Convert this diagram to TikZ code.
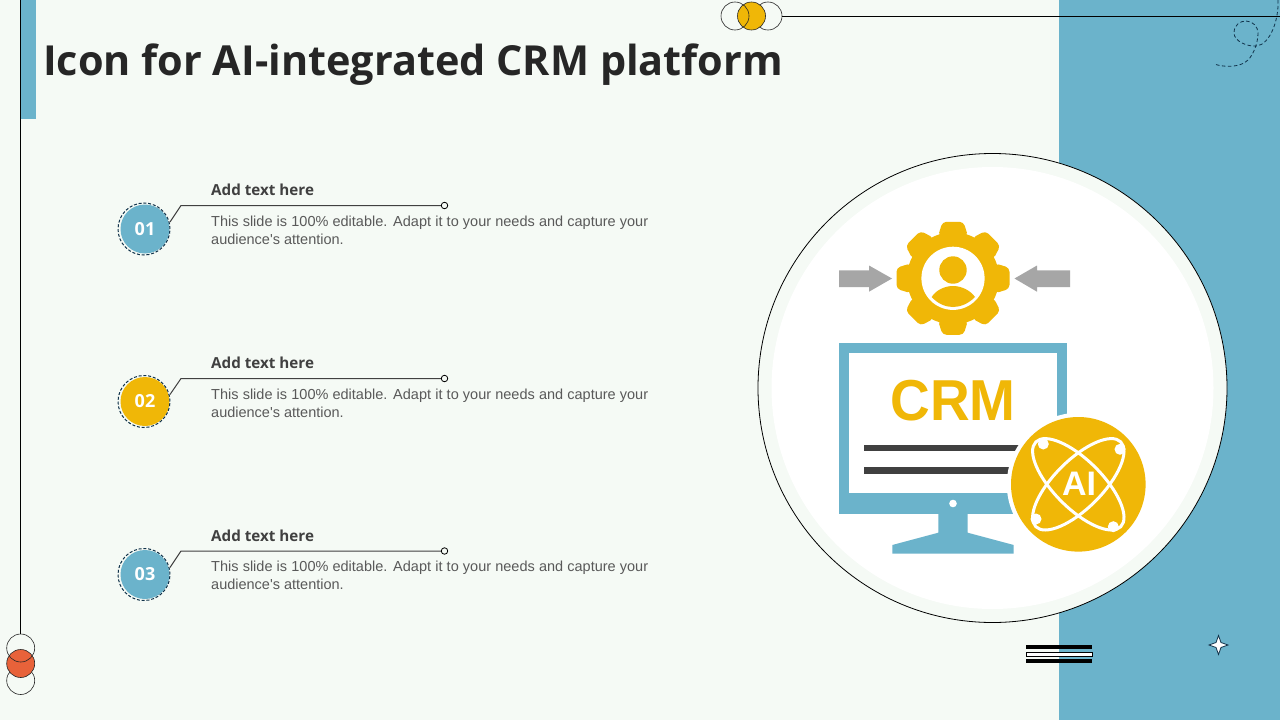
\documentclass[tikz,border=0pt]{standalone}
\usepackage{fontspec}
\setmainfont{Liberation Sans}
\newfontfamily\headfont{Open Sans}
\usetikzlibrary{calc}
\definecolor{pagebg}{HTML}{F5FAF5}
\definecolor{teal}{HTML}{6BB3CB}
\definecolor{gold}{HTML}{F0B707}
\definecolor{coral}{HTML}{E8623A}
\definecolor{ink}{HTML}{262626}
\definecolor{dgray}{HTML}{404040}
\definecolor{bodygray}{HTML}{595959}
\definecolor{arrowgray}{HTML}{A6A6A6}
\definecolor{navy}{HTML}{10324A}
\tikzset{
  x=1pt,y=-1pt,
  ring/.style={circle,draw=black!85,line width=.6pt,minimum size=28pt,inner sep=0pt},
  numdisc/.style={circle,minimum size=49pt,inner sep=0pt,text=white,font=\headfont\bfseries\fontsize{18}{20}\selectfont},
  dashring/.style={circle,draw=navy,line width=1pt,dash pattern=on 3pt off 1.8pt,minimum size=52pt,inner sep=0pt},
  headtext/.style={anchor=base west,inner sep=0pt,text=dgray,font=\headfont\bfseries\fontsize{15.2}{18}\selectfont},
  bodytext/.style={anchor=north west,inner sep=0pt,text=bodygray,align=left,font=\fontsize{14.5}{18}\selectfont},
  endcirc/.style={circle,draw=black,fill=pagebg,line width=.8pt,minimum size=6.5pt,inner sep=0pt},
  leader/.style={draw=dgray,line width=1pt},
  atom/.style={draw=white,line width=3pt},
  atomdot/.style={circle,fill=white,minimum size=11pt,inner sep=0pt},
}
\newcommand{\bodyblurb}{\makebox[437pt][s]{This slide is 100\% editable. Adapt it to your needs and capture your}\\audience\textquotesingle s attention.}
\begin{document}
\begin{tikzpicture}
\useasboundingbox (0,0) rectangle (1280,720);
\fill[pagebg] (0,0) rectangle (1280,720);
\fill[teal] (1059,0) rectangle (1280,720);
\fill[teal] (21,0) rectangle (36,119);

% top ornament
\node[ring] (tc) at (768,16) {};
\node[ring,fill=gold] (tb) at (751.5,16) {};
\node[ring] (ta) at (735,16) {};
\coordinate (tr) at (1280,16);
\draw[black,line width=1pt] (tc.east) -- (tr);
\draw[navy,line width=.8pt,dash pattern=on 3.5pt off 2.5pt]
  (1278,0) .. controls (1279,20) and (1270,44) .. (1257,46)
  .. controls (1247,47) and (1234,41) .. (1234,33)
  .. controls (1234,25) and (1240,21) .. (1246,21)
  .. controls (1253,21) and (1258,27) .. (1258,33)
  .. controls (1258,42) and (1254,54) .. (1248,60)
  .. controls (1241,67) and (1226,68) .. (1214,64);

% left ornament
\node[ring] (lc) at (20.7,680.5) {};
\node[ring,fill=coral] (lb) at (20.7,663.5) {};
\node[ring] (la) at (20.7,648) {};
\coordinate (lt) at (20.7,0);
\draw[black,line width=1pt] (lt) -- (la.north);

% title
\node[anchor=base west,inner sep=0pt,text=ink,font=\headfont\bfseries\fontsize{41.4}{48}\selectfont] (title) at (43,75) {Icon for AI-integrated CRM platform};

% items
\foreach \n/\lab/\col/\cy/\ly in {1/01/teal/229/205.5,2/02/gold/401.5/378.5,3/03/teal/574.5/551}{
  \node[numdisc,fill=\col] (d\n) at (145,\cy) {\lab};
  \node[dashring] (r\n) at (144,\cy) {};
  \coordinate (k\n) at (181,\ly);
  \node[endcirc] (e\n) at (444.5,\ly) {};
  \draw[leader] ($(r\n.center)+(26,-7)$) -- (k\n) -- (e\n.west);
  \node[headtext] (h\n) at (211,\ly-10) {Add text here};
  \node[bodytext] (b\n) at (211,\ly+10) {\bodyblurb};
}

% big circle
\node[circle,draw=black,fill=pagebg,line width=.8pt,minimum size=469pt,inner sep=0pt] (big) at (992.5,388) {};
\node[circle,fill=white,minimum size=442pt,inner sep=0pt] (inner) at (992.5,388) {};

% arrows
\fill[arrowgray] (839,270.3) -- (869,270.3) -- (869,265.5) -- (892,278.5) -- (869,291.7) -- (869,287) -- (839,287) -- cycle;
\fill[arrowgray] (1070,270.3) -- (1037,270.3) -- (1037,265.5) -- (1014.5,278.5) -- (1037,291.7) -- (1037,287) -- (1070,287) -- cycle;

% gear
\fill[gold] (953,278.3) circle (46);
\foreach \a in {0,45,...,315}{
  \fill[gold,rounded corners=4pt,shift={(953,278.3)},rotate=\a] (-15,-42) -- (-10.5,-56.5) -- (10.5,-56.5) -- (15,-42) -- cycle;
}
\fill[white] (953,278.3) circle (31.6);
\fill[gold] (953,270) circle (13.7);
\fill[gold] (931.7,297) .. controls (936,290) and (945,286) .. (953,286) .. controls (961,286) and (970,290) .. (975,297) .. controls (968,304) and (960,307) .. (953,307) .. controls (946,307) and (938,304) .. (931.7,297) -- cycle;

% monitor
\fill[teal] (839,343) rectangle (1067,514);
\fill[white] (849,353.3) rectangle (1057,493.3);
\fill[white] (953,503.5) circle (3.8);
\fill[teal] (938.3,514) -- (938.3,532.7) -- (892.3,545) -- (892.3,553.7) -- (1013.7,553.7) -- (1013.7,545) -- (967.7,532.7) -- (967.7,514) -- cycle;
\fill[dgray] (864,445) rectangle (1030,451.3);
\fill[dgray] (864,467.3) rectangle (1030,474);
\node[inner sep=0pt,text=gold,font=\bfseries\fontsize{55}{60}\selectfont] (crm) at (953,401) {\scalebox{1}[1.05]{CRM}};

% AI badge
\fill[white] (1078.3,484.3) circle (71.5);
\node[circle,fill=gold,minimum size=134.6pt,inner sep=0pt] (ai) at (1078.3,484.3) {};
\draw[atom,rotate around={45:(1078.3,484.3)}] (1078.3,484.3) ellipse [x radius=60,y radius=24];
\draw[atom,rotate around={-45:(1078.3,484.3)}] (1078.3,484.3) ellipse [x radius=60,y radius=24];
\node[atomdot] (a1) at (1043.3,444) {};
\node[atomdot] (a2) at (1120,449.3) {};
\node[atomdot] (a3) at (1036,519) {};
\node[atomdot] (a4) at (1113.3,526.7) {};
\node[inner sep=0pt,text=white,font=\bfseries\fontsize{34}{40}\selectfont] (ailab) at (1079,484) {AI};

% bottom bars
\fill[black] (1026,645) rectangle (1092,649);
\draw[black,fill=white,line width=.9pt] (1026.5,652.5) rectangle (1092.5,656.5);
\fill[black] (1026,659) rectangle (1092,663);

% star
\draw[navy,fill=white,line width=.8pt] (1218.5,635.5) -- (1221,642.5) -- (1228,645) -- (1221,647.5) -- (1218.5,654.5) -- (1216,647.5) -- (1209,645) -- (1216,642.5) -- cycle;
\end{tikzpicture}
\end{document}
